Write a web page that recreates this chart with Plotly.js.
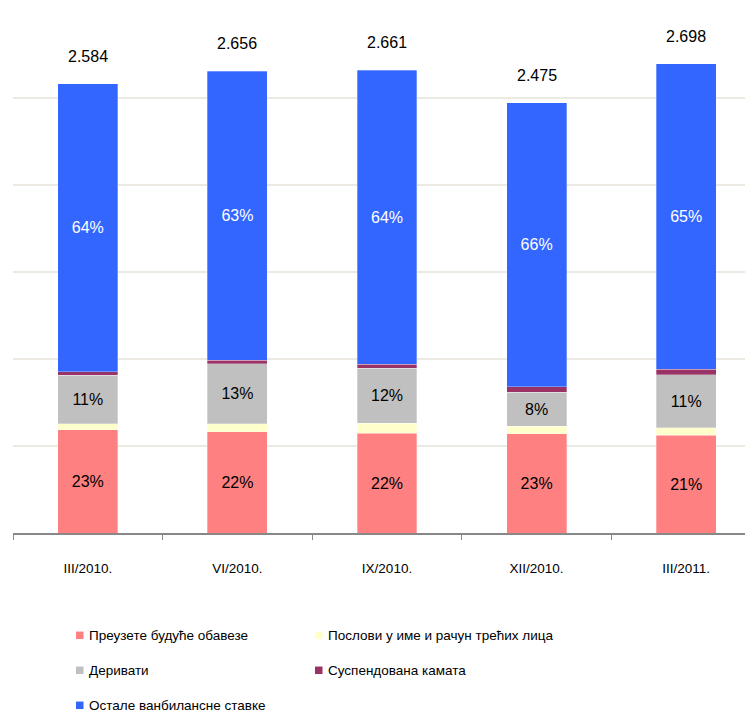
<!DOCTYPE html>
<html>
<head>
<meta charset="utf-8">
<script src="https://cdn.plot.ly/plotly-3.0.1.min.js"></script>
<style>html,body{margin:0;padding:0;background:#fff;}#chart{width:745px;height:713px;}</style>
</head>
<body>
<div id="chart"></div>
<script>
const categories = ["III/2010.", "VI/2010.", "IX/2010.", "XII/2010.", "III/2011."];
const totals = [2584, 2656, 2661, 2475, 2698];
const totalLabels = ["2.584", "2.656", "2.661", "2.475", "2.698"];
const preuzete = [594, 583, 575, 571, 562];
const poslovi = [33, 44, 56, 44, 44];
const derivati = [280, 346, 315, 195, 304];
const suspendovana = [21, 21, 23, 31, 33];
const ostale = [1656, 1662, 1692, 1634, 1755];
const preuzeteLabels = ["23%", "22%", "22%", "23%", "21%"];
const derivatiLabels = ["11%", "13%", "12%", "8%", "11%"];
const ostaleLabels = ["64%", "63%", "64%", "66%", "65%"];
const seriesNames = ["Преузете будуће обавезе", "Послови у име и рачун трећих лица", "Деривати", "Суспендована камата", "Остале ванбилансне ставке"];
const colors = ["#FF8080", "#FFFFCC", "#C0C0C0", "#993366", "#3366FF"];

const FONT = "'Liberation Sans', Arial, sans-serif";
function barTrace(name, y, color, text, textColor) {
  return {
    type: "bar", name: name, x: categories, y: y,
    marker: {color: color, line: {width: 0.6, color: "rgba(255,255,255,0.5)"}},
    width: 0.4,
    text: text || y.map(() => ""),
    textposition: "inside", insidetextanchor: "middle", textangle: 0,
    textfont: {family: FONT, size: 16, color: textColor || "#000"},
    hoverinfo: "skip"
  };
}
const data = [
  barTrace(seriesNames[0], preuzete, colors[0], preuzeteLabels, "#000"),
  barTrace(seriesNames[1], poslovi, colors[1], null),
  barTrace(seriesNames[2], derivati, colors[2], derivatiLabels, "#000"),
  barTrace(seriesNames[3], suspendovana, colors[3], null),
  barTrace(seriesNames[4], ostale, colors[4], ostaleLabels, "#fff")
];

const W = 745, H = 713;
const mL = 13, mR = 0, mT = 12.7, mB = 180.3;
const pw = W - mL - mR, ph = H - mT - mB;
const px = X => (X - mL) / pw;
const py = Y => (H - mB - Y) / ph;

const annotations = categories.map((c, i) => ({
  x: c, y: totals[i], xref: "x", yref: "y", text: totalLabels[i],
  showarrow: false, yanchor: "bottom", yshift: 17,
  font: {family: FONT, size: 16, color: "#000"}
}));
const shapes = [];
const legendPos = [[76, 635], [315, 635], [76, 670], [315, 670], [76, 705]];
const sq = 7.5;
seriesNames.forEach((n, i) => {
  const [X, Y] = legendPos[i];
  shapes.push({type: "rect", xref: "paper", yref: "paper",
    x0: px(X), x1: px(X + sq), y0: py(Y + sq / 2), y1: py(Y - sq / 2),
    fillcolor: colors[i], line: {width: 0}});
  annotations.push({xref: "paper", yref: "paper", x: px(X + 11), y: py(Y),
    xanchor: "left", yanchor: "middle", showarrow: false, text: n,
    font: {family: FONT, size: 13.5, color: "#000"}});
});

const layout = {
  width: W, height: H,
  margin: {l: mL, r: mR, t: mT, b: mB, pad: 0},
  paper_bgcolor: "#fff", plot_bgcolor: "#fff",
  barmode: "stack", showlegend: false,
  font: {family: FONT},
  xaxis: {
    type: "category", range: [-0.5, -0.5 + pw / 149.6],
    showgrid: false, showline: true, linecolor: "#888", linewidth: 2,
    ticks: "outside", tickson: "boundaries", ticklen: 5, tickcolor: "#888", tickwidth: 1,
    tickfont: {family: FONT, size: 13.5, color: "#000"}, ticklabelstandoff: 22,
    zeroline: false, fixedrange: true
  },
  yaxis: {
    range: [0, 2990], dtick: 500, showticklabels: false,
    showgrid: true, gridcolor: "#ECE9E2", gridwidth: 2,
    showline: false, zeroline: false, ticks: "", fixedrange: true
  },
  annotations: annotations,
  shapes: shapes
};
Plotly.newPlot("chart", data, layout, {displayModeBar: false, staticPlot: true});
</script>
</body>
</html>
